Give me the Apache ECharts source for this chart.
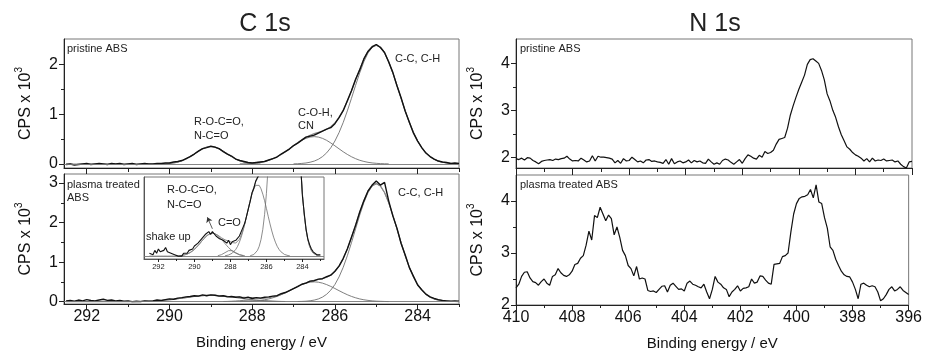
<!DOCTYPE html>
<html><head><meta charset="utf-8">
<script src="https://cdn.jsdelivr.net/npm/echarts@6/dist/echarts.min.js"></script>
<style>html,body{margin:0;padding:0;background:#fff}#c{width:925px;height:356px}</style>
</head><body><div id="c"></div>
<script>
const FONT = 'Liberation Sans, Arial, sans-serif';

// ---------- C 1s (grid 292.5 -> 283.0 eV, 0.1 eV step) ----------
const c1sStart = 292.5;
const c1sPristineMeasured = [
 -0.01,0.00,-0.02,-0.01,0.00,0.01,-0.01,0.00,0.01,0.00,
 -0.01,0.01,0.00,0.01,-0.01,0.00,0.01,-0.01,0.00,0.01,
 0.00,0.00,0.01,0.01,0.02,0.02,0.04,0.05,0.07,0.11,
 0.15,0.20,0.26,0.31,0.33,0.36,0.34,0.31,0.25,0.20,
 0.16,0.10,0.07,0.05,0.03,0.02,0.03,0.04,0.05,0.08,
 0.11,0.14,0.20,0.25,0.30,0.37,0.42,0.48,0.54,0.56,
 0.58,0.62,0.66,0.70,0.73,0.81,0.93,1.07,1.27,1.47,
 1.70,1.89,2.11,2.26,2.35,2.40,2.34,2.24,2.05,1.84,
 1.57,1.33,1.06,0.84,0.62,0.46,0.33,0.22,0.15,0.10,
 0.06,0.04,0.03,0.01,0.02,0.01];
const c1sPristineFit = [
 0,0,0,0,0,0,0,0,0,0,
 0,0,0,0,0,0,0,0,0,0,
 0,0,0,0.003,0.006,0.011,0.022,0.039,0.065,0.102,
 0.149,0.202,0.257,0.305,0.338,0.350,0.338,0.305,0.257,0.202,
 0.149,0.102,0.068,0.044,0.030,0.025,0.028,0.037,0.052,0.075,
 0.107,0.146,0.193,0.246,0.305,0.368,0.429,0.487,0.536,0.577,
 0.609,0.636,0.664,0.699,0.749,0.827,0.936,1.079,1.259,1.465,
 1.687,1.905,2.106,2.264,2.364,2.394,2.350,2.235,2.057,1.830,
 1.580,1.319,1.066,0.833,0.631,0.462,0.326,0.224,0.149,0.095,
 0.059,0.036,0.021,0.012,0.006,0.003];
const rocoPristineStart = 290.2;
const rocoPristine = [0.003,0.006,0.011,0.022,0.039,0.065,0.102,0.149,0.202,0.257,0.305,0.338,0.350,0.338,0.305,0.257,0.202,0.149,0.102,0.065,0.039,0.022,0.011,0.006,0.003];
const cohPristineStart = 288.3;
const cohPristine = [0.003,0.005,0.008,0.014,0.022,0.034,0.052,0.075,0.107,0.146,0.193,0.246,0.305,0.365,0.423,0.475,0.515,0.541,0.550,0.541,0.515,0.475,0.423,0.365,0.305,0.246,0.193,0.146,0.107,0.075,0.052,0.034,0.022,0.014,0.008,0.005,0.003];
const ccPristineStart = 287.0;
const ccPristine = [0.003,0.006,0.012,0.021,0.036,0.059,0.095,0.149,0.224,0.326,0.462,0.631,0.833,1.066,1.319,1.580,1.830,2.054,2.230,2.342,2.380,2.342,2.230,2.054,1.830,1.580,1.319,1.066,0.833,0.631,0.462,0.326,0.224,0.149,0.095,0.059,0.036,0.021,0.012,0.006,0.003];

const c1sPlasmaMeasured = [
 0.02,0.03,0.01,0.04,0.02,0.05,0.03,0.02,0.04,0.06,
 0.03,0.04,0.02,0.03,0.01,0.02,0.00,0.01,0.00,0.02,
 0.01,0.02,0.04,0.03,0.05,0.07,0.06,0.09,0.10,0.12,
 0.13,0.15,0.14,0.17,0.15,0.17,0.16,0.14,0.15,0.12,
 0.13,0.11,0.12,0.09,0.11,0.08,0.10,0.09,0.11,0.12,
 0.14,0.15,0.20,0.23,0.28,0.33,0.38,0.44,0.47,0.52,
 0.53,0.57,0.58,0.63,0.67,0.77,0.90,1.09,1.33,1.63,
 1.93,2.27,2.55,2.80,2.95,3.05,2.95,3.02,2.55,2.17,
 1.86,1.47,1.18,0.86,0.64,0.42,0.30,0.19,0.12,0.08,
 0.05,0.03,0.02,0.01,0.02,0.01];
const c1sPlasmaFit = [
 0,0,0,0,0,0,0,0,0,0,
 0,0,0,0,0,0,0,0.003,0.005,0.007,
 0.010,0.014,0.020,0.027,0.036,0.047,0.059,0.073,0.087,0.103,
 0.118,0.131,0.143,0.152,0.158,0.160,0.158,0.152,0.146,0.136,
 0.128,0.119,0.113,0.109,0.105,0.099,0.094,0.090,0.091,0.098,
 0.117,0.144,0.183,0.227,0.277,0.332,0.388,0.437,0.479,0.514,
 0.539,0.560,0.583,0.617,0.675,0.766,0.903,1.092,1.335,1.622,
 1.939,2.258,2.552,2.790,2.943,2.992,2.931,2.763,2.507,2.190,
 1.842,1.490,1.160,0.868,0.626,0.434,0.290,0.186,0.115,0.068,
 0.039,0.022,0.011,0.006,0.003,0.001];
const rocoPlasmaStart = 290.8;
const rocoPlasma = [0.003,0.005,0.007,0.010,0.014,0.020,0.027,0.036,0.047,0.059,0.073,0.087,0.103,0.118,0.131,0.143,0.152,0.158,0.160,0.158,0.152,0.143,0.131,0.118,0.103,0.087,0.073,0.059,0.047,0.036,0.027,0.020,0.014,0.010,0.007,0.005,0.003];
const coPlasmaStart = 288.7;
const coPlasma = [0.003,0.005,0.010,0.016,0.024,0.032,0.038,0.040,0.038,0.032,0.024,0.016,0.010,0.005,0.003];
const cohPlasmaStart = 288.3;
const cohPlasma = [0.002,0.004,0.008,0.012,0.020,0.031,0.047,0.068,0.097,0.132,0.175,0.224,0.277,0.332,0.385,0.431,0.468,0.492,0.500,0.492,0.468,0.431,0.385,0.332,0.277,0.224,0.175,0.132,0.097,0.068,0.047,0.031,0.020,0.012,0.008,0.004,0.002];
const ccPlasmaStart = 286.9;
const ccPlasma = [0.003,0.006,0.011,0.022,0.039,0.068,0.115,0.186,0.290,0.434,0.626,0.868,1.160,1.490,1.842,2.190,2.505,2.759,2.923,2.980,2.923,2.759,2.505,2.190,1.842,1.490,1.160,0.868,0.626,0.434,0.290,0.186,0.115,0.068,0.039,0.022,0.011,0.006,0.003,0.001];

// ---------- N 1s (grid 410.0 -> 396.0 eV, 0.1 eV step) ----------
const n1sStart = 410.0;
const n1sPristine = [
 1.97,1.95,1.98,1.94,1.99,1.98,1.93,1.90,1.86,1.91,
 1.93,1.94,1.95,1.93,1.96,1.95,1.97,1.98,2.02,1.96,
 1.92,1.93,1.92,1.98,1.94,1.90,1.92,2.03,1.92,2.02,
 2.00,2.00,1.99,1.98,1.96,1.88,1.93,1.87,1.97,1.92,
 1.93,2.00,1.95,1.90,1.92,1.88,1.94,1.95,1.91,1.92,
 1.90,1.89,1.87,1.95,1.85,1.97,1.86,1.90,1.92,1.88,
 1.90,1.94,1.88,1.93,1.90,1.92,1.88,1.87,1.96,1.90,
 1.85,1.88,1.85,1.93,1.96,1.94,1.89,1.85,1.90,1.95,
 1.87,1.97,2.05,2.02,1.98,1.96,2.04,2.00,2.12,2.08,
 2.10,2.15,2.28,2.38,2.40,2.42,2.62,2.90,3.10,3.28,
 3.45,3.60,3.75,3.98,4.08,4.10,4.05,4.00,3.85,3.65,
 3.35,3.20,3.00,2.85,2.65,2.48,2.35,2.22,2.17,2.10,
 2.05,2.02,1.98,1.92,1.97,1.90,1.98,1.92,1.94,1.93,
 1.96,1.92,1.93,1.94,1.90,1.92,1.85,1.80,1.77,1.90,
 1.91];
const n1sPlasma = [
 2.33,2.40,2.55,2.63,2.64,2.52,2.45,2.43,2.38,2.45,
 2.50,2.42,2.38,2.55,2.58,2.70,2.62,2.57,2.55,2.58,
 2.65,2.78,2.80,2.90,2.95,3.15,3.42,3.25,3.72,3.68,
 3.88,3.75,3.62,3.73,3.66,3.35,3.50,3.30,3.05,2.95,
 2.76,2.70,2.56,2.74,2.50,2.52,2.50,2.28,2.26,2.27,
 2.24,2.30,2.36,2.37,2.25,2.38,2.42,2.36,2.30,2.31,
 2.27,2.42,2.46,2.40,2.38,2.35,2.33,2.40,2.25,2.12,
 2.30,2.55,2.44,2.40,2.33,2.30,2.16,2.25,2.30,2.37,
 2.27,2.32,2.33,2.35,2.50,2.42,2.44,2.56,2.55,2.48,
 2.42,2.40,2.78,2.79,2.80,2.93,2.95,3.00,3.40,3.75,
 3.95,4.05,4.08,4.09,4.12,4.22,4.06,4.31,3.98,3.95,
 3.68,3.48,3.12,3.05,2.88,2.76,2.65,2.58,2.55,2.54,
 2.44,2.30,2.12,2.40,2.42,2.38,2.35,2.37,2.35,2.25,
 2.08,2.12,2.20,2.30,2.35,2.27,2.30,2.35,2.28,2.24,
 2.20];

// ---------- ticks ----------
const c1sTicks = [284, 286, 288, 290, 292];
const c1sMinorTicks = [283, 285, 287, 289, 291];
const n1sTicks = [396, 398, 400, 402, 404, 406, 408, 410];
const n1sMinorTicks = [397, 399, 401, 403, 405, 407, 409];
const yTicksTL = [0, 1, 2], yMinorTL = [0.5, 1.5];
const yTicksBL = [0, 1, 2, 3], yMinorBL = [0.5, 1.5, 2.5];
const yTicksR = [2, 3, 4], yMinorR = [2.5, 3.5];

// ---------- helpers ----------
const step = 0.1;
function pairs(start, vals) { return vals.map((v, i) => [+(start - step * i).toFixed(2), v]); }

const yName = '{a|CPS x 10}{s|3}';
const yNameStyle = { fontFamily: FONT, color: '#111',
  rich: { a: { fontSize: 16, fontFamily: FONT, color: '#111', verticalAlign: 'bottom', lineHeight: 20 },
          s: { fontSize: 10, fontFamily: FONT, color: '#111', verticalAlign: 'top', lineHeight: 20 } } };

function grid(l, t, w, h, bg) {
  return { left: l, top: t, width: w, height: h, show: true, borderColor: '#777', borderWidth: 1,
           backgroundColor: bg || 'transparent', containLabel: false };
}
function xMain(gi, min, max, ticks, showLabel, tickLen, extra) {
  return Object.assign({ type: 'value', gridIndex: gi, min: min, max: max, inverse: true, position: 'bottom',
    axisLine: { show: true, onZero: false, lineStyle: { color: '#222', width: 1 } },
    axisTick: { show: true, inside: false, length: tickLen, customValues: ticks, lineStyle: { color: '#222', width: 1 } },
    axisLabel: { show: showLabel, customValues: ticks, fontSize: 16, color: '#111', fontFamily: FONT, margin: 5 },
    splitLine: { show: false } }, extra || {});
}
function xMinor(gi, min, max, ticks, len) {
  return { type: 'value', gridIndex: gi, min: min, max: max, inverse: true, position: 'bottom',
    axisLine: { show: false, onZero: false },
    axisTick: { show: true, length: len, customValues: ticks, lineStyle: { color: '#222', width: 1 } },
    axisLabel: { show: false }, splitLine: { show: false } };
}
function yMain(gi, min, max, ticks) {
  return { type: 'value', gridIndex: gi, min: min, max: max, position: 'left',
    name: yName, nameLocation: 'middle', nameGap: 30, nameRotate: 90, nameTextStyle: yNameStyle,
    axisLine: { show: true, onZero: false, lineStyle: { color: '#222', width: 1 } },
    axisTick: { show: true, length: 5, customValues: ticks, lineStyle: { color: '#222', width: 1 } },
    axisLabel: { show: true, customValues: ticks, fontSize: 16, color: '#111', fontFamily: FONT, margin: 6 },
    splitLine: { show: false } };
}
function yMinor(gi, min, max, ticks) {
  return { type: 'value', gridIndex: gi, min: min, max: max, position: 'left',
    axisLine: { show: false, onZero: false },
    axisTick: { show: true, length: 3, customValues: ticks, lineStyle: { color: '#222', width: 1 } },
    axisLabel: { show: false }, splitLine: { show: false } };
}
const xName = { name: 'Binding energy / eV', nameLocation: 'middle', nameGap: 31,
  nameTextStyle: { fontSize: 15, fontFamily: FONT, color: '#111' } };

const C1S_MIN = 283.0, C1S_MAX = 292.55;
const INSET_MIN = 282.8, INSET_MAX = 292.8;

function line(xi, yi, data, color, width, z, extra) {
  return Object.assign({ type: 'line', xAxisIndex: xi, yAxisIndex: yi, data: data, showSymbol: false, symbol: 'none',
    lineStyle: { color: color, width: width }, z: z, silent: true, animation: false, clip: true }, extra || {});
}
const baseline = { silent: true, symbol: 'none', label: { show: false },
  lineStyle: { color: '#777', width: 0.9, type: 'solid' }, data: [{ yAxis: 0 }] };
const COMP = '#6f6f6f', FIT = '#8a8a8a', MEAS = '#111';

const c1sPM = pairs(c1sStart, c1sPristineMeasured), c1sPF = pairs(c1sStart, c1sPristineFit);
const c1sTM = pairs(c1sStart, c1sPlasmaMeasured), c1sTF = pairs(c1sStart, c1sPlasmaFit);

const series = [
  // top-left pristine C1s
  line(0, 0, pairs(rocoPristineStart, rocoPristine), COMP, 0.9, 2, { markLine: baseline }),
  line(0, 0, pairs(cohPristineStart, cohPristine), COMP, 0.9, 2),
  line(0, 0, pairs(ccPristineStart, ccPristine), COMP, 0.9, 2),
  line(0, 0, c1sPF, FIT, 1.2, 3),
  line(0, 0, c1sPM, MEAS, 1.4, 4),
  // bottom-left plasma C1s
  line(2, 2, pairs(rocoPlasmaStart, rocoPlasma), COMP, 0.9, 2, { markLine: baseline }),
  line(2, 2, pairs(coPlasmaStart, coPlasma), COMP, 0.9, 2),
  line(2, 2, pairs(cohPlasmaStart, cohPlasma), COMP, 0.9, 2),
  line(2, 2, pairs(ccPlasmaStart, ccPlasma), COMP, 0.9, 2),
  line(2, 2, c1sTF, FIT, 1.2, 3),
  line(2, 2, c1sTM, MEAS, 1.4, 4),
  // inset
  line(8, 8, pairs(rocoPlasmaStart, rocoPlasma), COMP, 0.8, 12, { markLine: baseline }),
  line(8, 8, pairs(coPlasmaStart, coPlasma), COMP, 0.8, 12),
  line(8, 8, pairs(cohPlasmaStart, cohPlasma), COMP, 0.8, 12),
  line(8, 8, pairs(ccPlasmaStart, ccPlasma), COMP, 0.8, 12),
  line(8, 8, c1sTF, FIT, 1.0, 13),
  line(8, 8, c1sTM, MEAS, 1.1, 14, { markLine: { silent: true, symbol: ['none', 'arrow'], symbolSize: 5,
      label: { show: false }, lineStyle: { color: '#333', width: 0.8, type: 'solid' },
      data: [[{ coord: [289.0, 0.19] }, { coord: [289.28, 0.27] }]] } }),
  // N1s
  line(4, 4, pairs(n1sStart, n1sPristine), MEAS, 1.2, 4),
  line(6, 6, pairs(n1sStart, n1sPlasma), MEAS, 1.2, 4)
];

function txt(x, y, s, size, align) {
  return { type: 'text', x: x, y: y, silent: true, z: 100,
    style: { text: s, fill: '#222', font: size + 'px ' + FONT, textAlign: align || 'left', textVerticalAlign: 'middle' } };
}

const option = {
  animation: false,
  backgroundColor: '#fff',
  grid: [
    grid(64, 39, 395, 129),
    grid(64, 174, 395, 130),
    grid(516, 39, 396, 129),
    grid(516, 175, 396, 130),
    grid(144, 177, 180, 82, '#fff')
  ],
  xAxis: [
    xMain(0, C1S_MIN, C1S_MAX, c1sTicks, false, 6),
    xMinor(0, C1S_MIN, C1S_MAX, c1sMinorTicks, 4),
    xMain(1, C1S_MIN, C1S_MAX, c1sTicks, true, 5, xName),
    xMinor(1, C1S_MIN, C1S_MAX, c1sMinorTicks, 3),
    xMain(2, 396, 410, n1sTicks, false, 7),
    xMinor(2, 396, 410, n1sMinorTicks, 4),
    xMain(3, 396, 410, n1sTicks, true, 5, xName),
    xMinor(3, 396, 410, n1sMinorTicks, 3),
    Object.assign(xMain(4, INSET_MIN, INSET_MAX, c1sTicks, true, 3), {
      axisLabel: { show: true, customValues: c1sTicks, fontSize: 7.5, color: '#222', fontFamily: FONT, margin: 4 },
      axisLine: { show: true, onZero: false, lineStyle: { color: '#555', width: 1 } } }),
    xMinor(4, INSET_MIN, INSET_MAX, c1sMinorTicks, 2)
  ],
  yAxis: [
    yMain(0, -0.08, 2.51, yTicksTL),
    yMinor(0, -0.08, 2.51, yMinorTL),
    yMain(1, -0.06, 3.23, yTicksBL),
    yMinor(1, -0.06, 3.23, yMinorBL),
    yMain(2, 1.77, 4.52, yTicksR),
    yMinor(2, 1.77, 4.52, yMinorR),
    yMain(3, 2.0, 4.5, yTicksR),
    yMinor(3, 2.0, 4.5, yMinorR),
    { type: 'value', gridIndex: 4, min: -0.02, max: 0.55, position: 'left',
      axisLine: { show: true, onZero: false, lineStyle: { color: '#555' } }, axisTick: { show: false },
      axisLabel: { show: false }, splitLine: { show: false } }
  ],
  series: series,
  graphic: [
    txt(265, 24, 'C 1s', 25, 'center'),
    txt(715, 24, 'N 1s', 25, 'center'),
    txt(67, 49, 'pristine ABS', 11),
    txt(395, 59, 'C-C, C-H', 11),
    txt(298, 113, 'C-O-H,', 11),
    txt(298, 126, 'CN', 11),
    txt(194, 122, 'R-O-C=O,', 11),
    txt(194, 136, 'N-C=O', 11),
    txt(67, 185, 'plasma treated', 11),
    txt(67, 198, 'ABS', 11),
    txt(398, 193, 'C-C, C-H', 11),
    txt(167, 190, 'R-O-C=O,', 11),
    txt(167, 205, 'N-C=O', 11),
    txt(218, 223, 'C=O', 11),
    txt(146, 237, 'shake up', 11),
    txt(520, 49, 'pristine ABS', 11),
    txt(520, 185, 'plasma treated ABS', 11)
  ]
};

const chart = echarts.init(document.getElementById('c'), null, { renderer: 'canvas', width: 925, height: 356 });
chart.setOption(option);
</script>
</body></html>
